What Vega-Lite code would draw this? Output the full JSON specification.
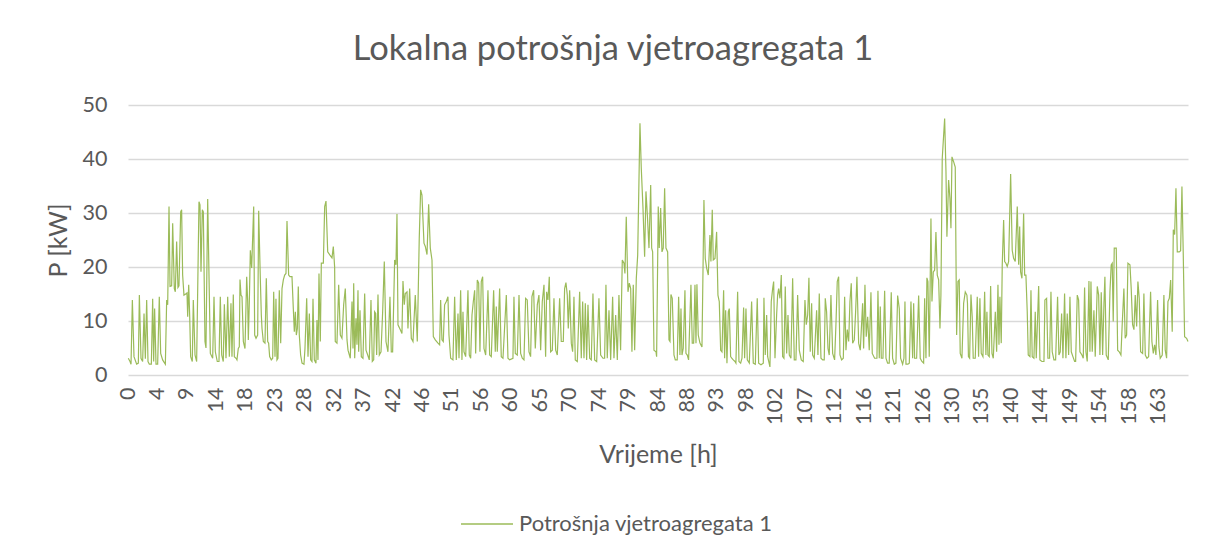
{
  "$schema": "https://vega.github.io/schema/vega-lite/v6.json",
  "autosize": {"type": "none"},
  "width": 1060,
  "height": 270,
  "padding": {"left": 128, "top": 105, "right": 27, "bottom": 183},
  "background": "white",
  "config": {"view": {"stroke": null}, "font": "Lato"},
  "title": {"text": "Lokalna potrošnja vjetroagregata 1", "font": "Lato", "fontSize": 34.5, "fontWeight": "normal", "color": "#595959", "anchor": "middle", "dx": -45, "baseline": "alphabetic", "offset": 0},
  "data": {"values": [
{"h":0.05,"p":3.1},{"h":0.32,"p":2.5},{"h":0.48,"p":2.0},{"h":0.69,"p":13.9},{"h":0.95,"p":3.4},{"h":1.37,"p":2.0},{"h":1.64,"p":2.2},{"h":1.8,"p":14.8},{"h":2.06,"p":3.1},{"h":2.32,"p":2.5},{"h":2.54,"p":11.4},{"h":2.75,"p":3.0},{"h":2.96,"p":13.9},{"h":3.17,"p":2.5},{"h":3.38,"p":2.0},{"h":3.7,"p":2.0},{"h":3.91,"p":14.1},{"h":4.07,"p":2.5},{"h":4.22,"p":12.3},{"h":4.44,"p":2.0},{"h":4.7,"p":2.0},{"h":4.96,"p":14.5},{"h":5.18,"p":4.0},{"h":5.49,"p":2.8},{"h":5.92,"p":2.0},{"h":6.13,"p":13.9},{"h":6.29,"p":13.0},{"h":6.5,"p":31.2},{"h":6.66,"p":16.4},{"h":6.92,"p":16.5},{"h":7.08,"p":28.1},{"h":7.34,"p":16.0},{"h":7.5,"p":15.4},{"h":7.71,"p":24.7},{"h":7.92,"p":16.2},{"h":8.08,"p":16.5},{"h":8.35,"p":30.2},{"h":8.5,"p":30.6},{"h":8.66,"p":18.5},{"h":8.87,"p":14.8},{"h":9.14,"p":15.0},{"h":9.35,"p":15.2},{"h":9.46,"p":10.8},{"h":9.62,"p":16.7},{"h":9.78,"p":10.8},{"h":9.93,"p":3.4},{"h":10.19,"p":2.5},{"h":10.35,"p":13.9},{"h":10.62,"p":3.7},{"h":10.88,"p":2.5},{"h":11.25,"p":32.1},{"h":11.41,"p":31.5},{"h":11.57,"p":19.1},{"h":11.78,"p":30.6},{"h":11.94,"p":30.2},{"h":12.2,"p":6.2},{"h":12.36,"p":5.0},{"h":12.63,"p":32.6},{"h":12.89,"p":14.8},{"h":13.05,"p":4.0},{"h":13.42,"p":3.1},{"h":13.63,"p":14.5},{"h":13.84,"p":4.3},{"h":14.15,"p":2.5},{"h":14.42,"p":2.5},{"h":14.63,"p":14.5},{"h":14.85,"p":3.7},{"h":15.1,"p":2.5},{"h":15.27,"p":13.1},{"h":15.53,"p":3.1},
{"h":15.8,"p":14.5},{"h":16.06,"p":3.4},{"h":16.32,"p":13.3},{"h":16.48,"p":3.4},{"h":16.69,"p":14.9},{"h":16.85,"p":3.4},{"h":17.12,"p":3.1},{"h":17.27,"p":2.8},{"h":17.48,"p":4.9},{"h":17.64,"p":5.2},{"h":17.75,"p":17.7},{"h":17.91,"p":14.8},{"h":18.07,"p":14.5},{"h":18.28,"p":6.2},{"h":18.54,"p":4.9},{"h":18.81,"p":18.2},{"h":18.97,"p":13.6},{"h":19.07,"p":6.5},{"h":19.23,"p":13.6},{"h":19.39,"p":23.1},{"h":19.6,"p":19.8},{"h":19.92,"p":31.2},{"h":20.08,"p":7.4},{"h":20.29,"p":6.8},{"h":20.55,"p":7.4},{"h":20.71,"p":30.4},{"h":20.97,"p":17.9},{"h":21.13,"p":11.1},{"h":21.24,"p":8.6},{"h":21.45,"p":6.2},{"h":21.71,"p":5.9},{"h":21.92,"p":17.9},{"h":22.14,"p":6.2},{"h":22.29,"p":5.9},{"h":22.45,"p":3.4},{"h":22.71,"p":2.8},{"h":22.93,"p":3.1},{"h":23.09,"p":15.4},{"h":23.3,"p":3.4},{"h":23.45,"p":14.1},{"h":23.61,"p":2.8},{"h":23.77,"p":3.1},{"h":23.98,"p":15.7},{"h":24.2,"p":5.9},{"h":24.41,"p":16.0},{"h":24.62,"p":17.6},{"h":24.83,"p":18.5},{"h":25.04,"p":18.8},{"h":25.2,"p":28.5},{"h":25.46,"p":18.5},{"h":25.67,"p":18.2},{"h":25.99,"p":18.2},{"h":26.2,"p":12.3},{"h":26.36,"p":8.0},{"h":26.52,"p":11.7},{"h":26.68,"p":7.4},{"h":26.84,"p":8.6},{"h":26.99,"p":16.4},{"h":27.15,"p":7.4},{"h":27.36,"p":3.7},{"h":27.58,"p":2.2},{"h":27.89,"p":2.0},{"h":28.05,"p":4.9},{"h":28.32,"p":14.2},{"h":28.53,"p":3.4},{"h":28.74,"p":11.4},{"h":28.95,"p":2.8},{"h":29.16,"p":2.5},{"h":29.32,"p":14.1},{"h":29.53,"p":2.8},{"h":29.79,"p":2.2},{"h":29.95,"p":10.2},{"h":30.11,"p":2.8},{"h":30.27,"p":18.8},{"h":30.48,"p":6.2},{"h":30.64,"p":20.7},{"h":30.96,"p":20.7},{"h":31.17,"p":31.2},{"h":31.38,"p":32.2},{"h":31.65,"p":22.8},{"h":32.01,"p":22.2},{"h":32.33,"p":21.7},{"h":32.54,"p":23.8},
{"h":32.75,"p":20.0},{"h":32.85,"p":6.2},{"h":33.12,"p":5.9},{"h":33.39,"p":16.7},{"h":33.65,"p":7.4},{"h":33.91,"p":6.8},{"h":34.18,"p":13.0},{"h":34.44,"p":16.0},{"h":34.71,"p":6.5},{"h":34.87,"p":4.6},{"h":35.23,"p":3.1},{"h":35.5,"p":13.6},{"h":35.66,"p":4.9},{"h":35.77,"p":17.0},{"h":35.93,"p":3.1},{"h":36.13,"p":10.5},{"h":36.29,"p":5.6},{"h":36.45,"p":15.7},{"h":36.56,"p":4.3},{"h":36.77,"p":12.0},{"h":36.98,"p":3.4},{"h":37.24,"p":3.1},{"h":37.51,"p":15.1},{"h":37.72,"p":4.6},{"h":37.99,"p":3.7},{"h":38.24,"p":2.8},{"h":38.51,"p":13.9},{"h":38.72,"p":2.5},{"h":38.94,"p":2.8},{"h":39.09,"p":11.7},{"h":39.25,"p":11.4},{"h":39.41,"p":3.7},{"h":39.62,"p":14.9},{"h":39.83,"p":3.7},{"h":40.1,"p":4.3},{"h":40.36,"p":11.7},{"h":40.62,"p":21.0},{"h":40.89,"p":6.2},{"h":41.2,"p":4.3},{"h":41.52,"p":14.5},{"h":41.73,"p":4.3},{"h":41.94,"p":4.3},{"h":42.26,"p":21.3},{"h":42.47,"p":20.4},{"h":42.63,"p":29.8},{"h":42.79,"p":9.3},{"h":43.16,"p":8.4},{"h":43.42,"p":7.7},{"h":43.58,"p":17.4},{"h":43.79,"p":13.0},{"h":43.95,"p":15.1},{"h":44.22,"p":15.4},{"h":44.37,"p":8.6},{"h":44.64,"p":16.0},{"h":44.9,"p":6.8},{"h":45.17,"p":6.2},{"h":45.32,"p":9.9},{"h":45.53,"p":14.8},{"h":45.85,"p":6.2},{"h":46.16,"p":25.3},{"h":46.38,"p":34.3},{"h":46.59,"p":33.3},{"h":46.91,"p":24.4},{"h":47.12,"p":23.8},{"h":47.39,"p":22.3},{"h":47.65,"p":31.6},{"h":47.91,"p":23.5},{"h":48.18,"p":21.3},{"h":48.39,"p":7.1},{"h":48.7,"p":6.5},{"h":49.13,"p":5.9},
{"h":49.39,"p":5.6},{"h":49.55,"p":13.9},{"h":49.76,"p":6.5},{"h":49.97,"p":6.2},{"h":50.18,"p":13.0},{"h":50.45,"p":13.6},{"h":50.71,"p":14.5},{"h":50.87,"p":7.4},{"h":51.14,"p":3.1},{"h":51.5,"p":2.8},{"h":51.77,"p":14.5},{"h":52.03,"p":2.8},{"h":52.3,"p":11.4},{"h":52.46,"p":3.1},{"h":52.72,"p":15.7},{"h":52.93,"p":2.8},{"h":53.09,"p":11.7},{"h":53.25,"p":4.3},{"h":53.52,"p":3.4},{"h":53.88,"p":15.7},{"h":54.09,"p":3.7},{"h":54.31,"p":3.1},{"h":54.52,"p":11.1},{"h":54.73,"p":13.6},{"h":54.94,"p":15.7},{"h":55.1,"p":4.0},{"h":55.36,"p":17.6},{"h":55.58,"p":17.0},{"h":55.78,"p":4.3},{"h":55.99,"p":17.3},{"h":56.21,"p":18.2},{"h":56.42,"p":4.9},{"h":56.69,"p":3.7},{"h":57.05,"p":15.7},{"h":57.32,"p":3.7},{"h":57.58,"p":3.4},{"h":57.95,"p":15.7},{"h":58.21,"p":4.3},{"h":58.37,"p":12.7},{"h":58.53,"p":4.3},{"h":58.9,"p":16.0},{"h":59.16,"p":3.4},{"h":59.43,"p":3.1},{"h":59.96,"p":14.8},{"h":60.22,"p":3.1},{"h":60.49,"p":2.8},{"h":61.01,"p":3.1},{"h":61.17,"p":14.5},{"h":61.38,"p":4.0},{"h":61.7,"p":3.7},{"h":61.97,"p":14.8},{"h":62.23,"p":4.0},{"h":62.49,"p":3.1},{"h":62.76,"p":2.8},{"h":63.02,"p":14.2},{"h":63.28,"p":13.9},{"h":63.55,"p":4.3},{"h":63.81,"p":3.4},{"h":64.02,"p":14.5},{"h":64.29,"p":15.7},{"h":64.55,"p":4.9},{"h":64.87,"p":13.0},{"h":65.13,"p":14.8},{"h":65.4,"p":4.6},{"h":65.66,"p":13.6},{"h":65.93,"p":16.7},
{"h":66.19,"p":3.4},{"h":66.35,"p":15.4},{"h":66.56,"p":13.9},{"h":66.77,"p":18.2},{"h":66.98,"p":4.3},{"h":67.25,"p":4.6},{"h":67.51,"p":14.2},{"h":67.78,"p":4.6},{"h":68.04,"p":3.7},{"h":68.41,"p":14.2},{"h":68.67,"p":6.2},{"h":68.99,"p":6.2},{"h":69.2,"p":16.0},{"h":69.41,"p":17.1},{"h":69.62,"p":14.8},{"h":69.78,"p":8.6},{"h":70.0,"p":15.7},{"h":70.26,"p":5.9},{"h":70.47,"p":4.3},{"h":70.68,"p":14.5},{"h":70.89,"p":2.8},{"h":71.21,"p":2.5},{"h":71.58,"p":15.4},{"h":71.84,"p":3.1},{"h":72.06,"p":13.6},{"h":72.27,"p":3.1},{"h":72.48,"p":13.3},{"h":72.69,"p":2.8},{"h":72.9,"p":13.0},{"h":73.17,"p":3.1},{"h":73.43,"p":2.8},{"h":73.69,"p":15.1},{"h":73.96,"p":2.8},{"h":74.28,"p":2.5},{"h":74.64,"p":14.2},{"h":74.91,"p":3.7},{"h":75.28,"p":3.1},{"h":75.54,"p":3.1},{"h":75.75,"p":16.7},{"h":75.96,"p":3.1},{"h":76.23,"p":12.0},{"h":76.5,"p":2.8},{"h":76.81,"p":14.5},{"h":77.02,"p":3.1},{"h":77.29,"p":11.1},{"h":77.55,"p":2.8},{"h":77.81,"p":14.8},{"h":78.07,"p":4.6},{"h":78.34,"p":21.3},{"h":78.61,"p":20.7},{"h":78.76,"p":18.8},{"h":78.97,"p":29.3},{"h":79.24,"p":15.4},{"h":79.45,"p":17.0},{"h":79.67,"p":16.0},{"h":79.87,"p":4.3},{"h":80.08,"p":16.7},{"h":80.3,"p":4.6},{"h":80.56,"p":17.9},{"h":80.78,"p":22.2},{"h":81.14,"p":46.6},{"h":81.35,"p":38.3},{"h":81.62,"p":30.9},{"h":81.88,"p":21.9},{"h":82.09,"p":34.0},{"h":82.3,"p":29.9},{"h":82.57,"p":23.5},{"h":82.84,"p":35.2},
{"h":83.0,"p":23.5},{"h":83.15,"p":22.8},{"h":83.36,"p":4.6},{"h":83.68,"p":4.3},{"h":83.78,"p":3.4},{"h":84.04,"p":31.2},{"h":84.2,"p":23.5},{"h":84.42,"p":30.9},{"h":84.63,"p":22.8},{"h":84.83,"p":23.5},{"h":85.05,"p":34.6},{"h":85.26,"p":23.5},{"h":85.53,"p":22.8},{"h":85.74,"p":6.5},{"h":85.9,"p":6.2},{"h":86.05,"p":14.9},{"h":86.26,"p":14.2},{"h":86.53,"p":3.7},{"h":86.74,"p":2.8},{"h":87.05,"p":2.8},{"h":87.27,"p":14.5},{"h":87.48,"p":3.7},{"h":87.64,"p":12.3},{"h":87.8,"p":3.7},{"h":88.0,"p":4.9},{"h":88.27,"p":15.7},{"h":88.43,"p":4.0},{"h":88.64,"p":3.7},{"h":88.85,"p":2.8},{"h":89.22,"p":16.7},{"h":89.43,"p":5.9},{"h":89.65,"p":5.9},{"h":89.86,"p":16.7},{"h":90.02,"p":5.9},{"h":90.17,"p":16.8},{"h":90.38,"p":7.4},{"h":90.65,"p":5.9},{"h":90.97,"p":5.2},{"h":91.28,"p":32.4},{"h":91.49,"p":21.6},{"h":91.71,"p":19.8},{"h":91.97,"p":18.5},{"h":92.23,"p":25.9},{"h":92.39,"p":21.0},{"h":92.6,"p":30.6},{"h":92.76,"p":21.3},{"h":93.03,"p":21.6},{"h":93.29,"p":26.5},{"h":93.5,"p":14.8},{"h":93.71,"p":13.6},{"h":93.93,"p":4.6},{"h":94.14,"p":4.3},{"h":94.4,"p":15.7},{"h":94.56,"p":3.1},{"h":94.72,"p":12.0},{"h":94.93,"p":2.2},{"h":95.14,"p":11.7},{"h":95.3,"p":12.3},{"h":95.51,"p":3.4},{"h":95.72,"p":3.1},{"h":95.93,"p":2.8},{"h":96.2,"p":2.5},{"h":96.35,"p":2.2},{"h":96.62,"p":15.4},{"h":96.83,"p":2.5},{"h":97.1,"p":2.2},{"h":97.31,"p":3.1},{"h":97.57,"p":12.5},{"h":97.73,"p":3.1},{"h":97.94,"p":12.3},{"h":98.15,"p":2.8},{"h":98.47,"p":2.2},{"h":98.84,"p":13.6},{"h":99.1,"p":2.2},{"h":99.42,"p":2.0},{"h":99.73,"p":14.2},
{"h":99.95,"p":2.2},{"h":100.32,"p":1.9},{"h":100.69,"p":2.2},{"h":100.79,"p":14.3},{"h":101.0,"p":3.7},{"h":101.22,"p":11.1},{"h":101.38,"p":3.4},{"h":101.74,"p":1.5},{"h":101.95,"p":13.6},{"h":102.17,"p":16.0},{"h":102.33,"p":17.3},{"h":102.54,"p":3.1},{"h":102.8,"p":11.1},{"h":102.96,"p":14.8},{"h":103.12,"p":16.0},{"h":103.33,"p":14.2},{"h":103.54,"p":18.5},{"h":103.75,"p":3.4},{"h":103.96,"p":3.1},{"h":104.17,"p":16.4},{"h":104.39,"p":4.0},{"h":104.6,"p":11.1},{"h":104.81,"p":3.7},{"h":105.07,"p":3.1},{"h":105.34,"p":17.9},{"h":105.6,"p":2.8},{"h":105.86,"p":2.8},{"h":106.13,"p":14.8},{"h":106.39,"p":4.6},{"h":106.71,"p":2.8},{"h":107.02,"p":2.5},{"h":107.29,"p":13.9},{"h":107.5,"p":9.3},{"h":107.72,"p":11.1},{"h":107.92,"p":18.0},{"h":108.13,"p":4.3},{"h":108.35,"p":13.3},{"h":108.51,"p":3.7},{"h":108.77,"p":3.1},{"h":109.14,"p":12.0},{"h":109.35,"p":3.7},{"h":109.56,"p":15.1},{"h":109.83,"p":3.1},{"h":110.1,"p":2.8},{"h":110.35,"p":2.8},{"h":110.51,"p":14.2},{"h":110.72,"p":11.7},{"h":110.94,"p":4.9},{"h":111.14,"p":3.7},{"h":111.41,"p":14.8},{"h":111.68,"p":4.0},{"h":111.99,"p":2.8},{"h":112.2,"p":9.3},{"h":112.41,"p":17.3},{"h":112.63,"p":18.2},{"h":112.84,"p":3.7},{"h":113.1,"p":2.8},{"h":113.37,"p":3.1},{"h":113.58,"p":14.5},{"h":113.79,"p":4.6},{"h":114.0,"p":8.4},{"h":114.22,"p":6.2},{"h":114.42,"p":13.6},{"h":114.63,"p":17.0},{"h":114.85,"p":5.9},{"h":115.11,"p":6.5},{"h":115.32,"p":11.7},{"h":115.53,"p":18.2},{"h":115.8,"p":5.9},{"h":116.06,"p":4.6},{"h":116.43,"p":13.3},
{"h":116.59,"p":4.9},{"h":116.8,"p":16.7},{"h":117.0,"p":7.1},{"h":117.23,"p":10.8},{"h":117.48,"p":4.6},{"h":117.75,"p":15.3},{"h":117.96,"p":4.0},{"h":118.33,"p":3.1},{"h":118.7,"p":3.1},{"h":118.86,"p":15.6},{"h":119.07,"p":3.1},{"h":119.23,"p":12.7},{"h":119.39,"p":3.1},{"h":119.65,"p":3.1},{"h":119.92,"p":15.6},{"h":120.13,"p":3.1},{"h":120.39,"p":2.2},{"h":120.65,"p":2.2},{"h":120.97,"p":15.3},{"h":121.18,"p":3.1},{"h":121.45,"p":2.0},{"h":121.71,"p":2.2},{"h":121.98,"p":14.7},{"h":122.24,"p":12.3},{"h":122.45,"p":3.1},{"h":122.77,"p":2.0},{"h":122.98,"p":3.1},{"h":123.14,"p":13.6},{"h":123.3,"p":2.0},{"h":123.61,"p":2.0},{"h":123.83,"p":2.2},{"h":124.09,"p":13.6},{"h":124.36,"p":3.1},{"h":124.52,"p":13.3},{"h":124.67,"p":3.1},{"h":124.99,"p":3.1},{"h":125.31,"p":14.7},{"h":125.56,"p":3.1},{"h":125.83,"p":2.5},{"h":126.1,"p":2.2},{"h":126.26,"p":14.2},{"h":126.47,"p":3.1},{"h":126.62,"p":18.0},{"h":126.78,"p":17.3},{"h":126.99,"p":3.4},{"h":127.26,"p":29.0},{"h":127.42,"p":13.6},{"h":127.63,"p":19.1},{"h":127.84,"p":19.4},{"h":128.05,"p":26.5},{"h":128.26,"p":18.5},{"h":128.48,"p":17.6},{"h":128.69,"p":8.6},{"h":128.84,"p":14.8},{"h":129.05,"p":40.1},{"h":129.43,"p":47.5},{"h":129.64,"p":37.7},{"h":129.79,"p":25.6},{"h":130.06,"p":36.1},{"h":130.27,"p":32.7},{"h":130.43,"p":27.2},{"h":130.59,"p":40.4},{"h":130.85,"p":39.5},{"h":131.11,"p":38.5},{"h":131.33,"p":7.4},{"h":131.54,"p":17.3},{"h":131.74,"p":17.6},{"h":131.9,"p":4.0},{"h":132.17,"p":3.1},{"h":132.44,"p":13.3},{"h":132.7,"p":15.4},{"h":132.96,"p":14.8},{"h":133.05,"p":13.3},
{"h":133.2,"p":3.4},{"h":133.39,"p":3.1},{"h":133.6,"p":14.9},{"h":133.8,"p":10.8},{"h":133.96,"p":3.1},{"h":134.28,"p":3.1},{"h":134.6,"p":14.5},{"h":134.81,"p":3.4},{"h":135.02,"p":14.2},{"h":135.23,"p":4.0},{"h":135.5,"p":3.4},{"h":135.77,"p":15.4},{"h":135.97,"p":3.7},{"h":136.13,"p":11.7},{"h":136.29,"p":3.7},{"h":136.5,"p":3.4},{"h":136.72,"p":16.5},{"h":136.93,"p":4.0},{"h":137.14,"p":3.1},{"h":137.46,"p":11.7},{"h":137.67,"p":4.3},{"h":137.88,"p":16.7},{"h":138.04,"p":5.6},{"h":138.19,"p":14.5},{"h":138.4,"p":5.9},{"h":138.56,"p":20.4},{"h":138.78,"p":28.7},{"h":138.94,"p":21.0},{"h":139.14,"p":20.7},{"h":139.35,"p":20.1},{"h":139.57,"p":21.0},{"h":139.89,"p":37.2},{"h":140.14,"p":23.1},{"h":140.36,"p":21.6},{"h":140.62,"p":21.0},{"h":140.94,"p":31.2},{"h":141.16,"p":20.4},{"h":141.32,"p":27.5},{"h":141.47,"p":19.1},{"h":141.68,"p":17.9},{"h":141.95,"p":29.9},{"h":142.11,"p":18.5},{"h":142.31,"p":18.5},{"h":142.52,"p":11.7},{"h":142.68,"p":3.7},{"h":142.95,"p":3.4},{"h":143.11,"p":15.7},{"h":143.31,"p":3.4},{"h":143.58,"p":3.1},{"h":143.79,"p":11.7},{"h":143.95,"p":3.1},{"h":144.33,"p":16.5},{"h":144.53,"p":2.8},{"h":144.85,"p":2.5},{"h":145.17,"p":2.5},{"h":145.32,"p":13.9},{"h":145.59,"p":14.2},{"h":145.8,"p":3.1},{"h":146.06,"p":3.1},{"h":146.28,"p":15.4},{"h":146.48,"p":4.3},{"h":146.75,"p":2.8},{"h":147.02,"p":2.8},{"h":147.33,"p":14.5},{"h":147.54,"p":3.7},{"h":147.75,"p":4.3},{"h":147.97,"p":11.4},{"h":148.18,"p":3.1},{"h":148.44,"p":15.1},{"h":148.65,"p":3.1},{"h":148.86,"p":11.4},{"h":149.08,"p":3.7},{"h":149.29,"p":14.5},{"h":149.5,"p":4.3},{"h":149.76,"p":3.4},{"h":150.03,"p":2.5},
{"h":150.19,"p":2.5},{"h":150.45,"p":14.8},{"h":150.66,"p":13.9},{"h":150.87,"p":4.3},{"h":151.19,"p":3.7},{"h":151.4,"p":3.1},{"h":151.61,"p":16.2},{"h":151.82,"p":4.3},{"h":152.03,"p":2.5},{"h":152.3,"p":17.4},{"h":152.46,"p":4.3},{"h":152.62,"p":17.3},{"h":152.82,"p":4.3},{"h":153.09,"p":12.0},{"h":153.3,"p":3.4},{"h":153.62,"p":16.4},{"h":153.84,"p":14.8},{"h":154.04,"p":3.7},{"h":154.25,"p":15.3},{"h":154.47,"p":3.7},{"h":154.68,"p":13.3},{"h":154.83,"p":18.2},{"h":155.04,"p":3.7},{"h":155.36,"p":2.8},{"h":155.63,"p":15.4},{"h":155.83,"p":20.4},{"h":155.99,"p":20.7},{"h":156.15,"p":9.9},{"h":156.31,"p":23.5},{"h":156.63,"p":23.5},{"h":156.85,"p":4.6},{"h":157.1,"p":4.3},{"h":157.37,"p":3.7},{"h":157.58,"p":9.6},{"h":157.84,"p":16.0},{"h":158.05,"p":6.8},{"h":158.27,"p":7.4},{"h":158.48,"p":20.7},{"h":158.8,"p":20.4},{"h":159.0,"p":16.0},{"h":159.22,"p":9.3},{"h":159.43,"p":8.4},{"h":159.64,"p":14.8},{"h":159.86,"p":9.0},{"h":160.06,"p":17.3},{"h":160.27,"p":14.2},{"h":160.49,"p":4.3},{"h":160.81,"p":4.0},{"h":161.01,"p":15.1},{"h":161.23,"p":3.7},{"h":161.49,"p":3.1},{"h":161.76,"p":3.4},{"h":162.07,"p":15.4},{"h":162.28,"p":6.2},{"h":162.5,"p":4.0},{"h":162.71,"p":5.6},{"h":162.92,"p":3.7},{"h":163.18,"p":13.9},{"h":163.39,"p":5.2},{"h":163.6,"p":3.1},{"h":163.92,"p":3.7},{"h":164.18,"p":14.8},{"h":164.39,"p":4.6},{"h":164.61,"p":3.1},{"h":164.82,"p":13.6},{"h":165.04,"p":14.2},{"h":165.25,"p":17.6},{"h":165.5,"p":8.0},{"h":165.67,"p":26.9},{"h":165.88,"p":26.0},{"h":166.09,"p":34.6},{"h":166.3,"p":22.8},{"h":166.61,"p":22.8},{"h":166.83,"p":23.0},{"h":167.04,"p":34.9},{"h":167.25,"p":22.2},{"h":167.46,"p":7.1},{"h":167.78,"p":6.8},{"h":168.0,"p":6.2}
  ]},
  "mark": {"type": "line", "strokeWidth": 1.2, "interpolate": "linear"},
  "encoding": {
    "x": {"field": "h", "type": "quantitative", "scale": {"domain": [0, 168], "nice": false, "zero": false},
      "axis": {"title": "Vrijeme [h]", "values": [0, 4.6667, 9.3333, 14, 18.6667, 23.3333, 28, 32.6667, 37.3333, 42, 46.6667, 51.3333, 56, 60.6667, 65.3333, 70, 74.6667, 79.3333, 84, 88.6667, 93.3333, 98, 102.6667, 107.3333, 112, 116.6667, 121.3333, 126, 130.6667, 135.3333, 140, 144.6667, 149.3333, 154, 158.6667, 163.3333],
        "labelExpr": "floor(datum.value + 0.001)", "labelAngle": -90, "labelAlign": "right", "labelBaseline": "middle", "labelFont": "Lato", "labelFontSize": 21.5, "labelColor": "#595959", "labelPadding": 12, "labelOverlap": false, "labelBound": false, "labelFlush": false,
        "ticks": false, "tickSize": 0, "domain": false, "grid": false,
        "titleFont": "Lato", "titleFontSize": 25, "titleFontWeight": "normal", "titleColor": "#595959", "titlePadding": 18}},
    "y": {"field": "p", "type": "quantitative", "scale": {"domain": [0, 50], "nice": false},
      "axis": {"title": "P [kW]", "values": [0, 10, 20, 30, 40, 50], "labelFont": "Lato", "labelFontSize": 21.5, "labelColor": "#595959", "labelPadding": 21,
        "ticks": false, "tickSize": 0, "domain": false, "grid": true, "gridColor": "#D9D9D9", "gridWidth": 1.3,
        "titleFont": "Lato", "titleFontSize": 25, "titleFontWeight": "normal", "titleColor": "#595959", "titlePadding": 11}},
    "color": {"datum": "Potrošnja vjetroagregata 1", "type": "nominal", "scale": {"range": ["#9BBB59"]},
      "legend": {"title": null, "orient": "none", "legendX": 332, "legendY": 392, "symbolType": "stroke", "symbolSize": 2704, "symbolStrokeWidth": 1.3, "labelFont": "Lato", "labelFontSize": 22, "labelLimit": 500, "labelColor": "#595959", "labelOffset": 5}}
  }
}
